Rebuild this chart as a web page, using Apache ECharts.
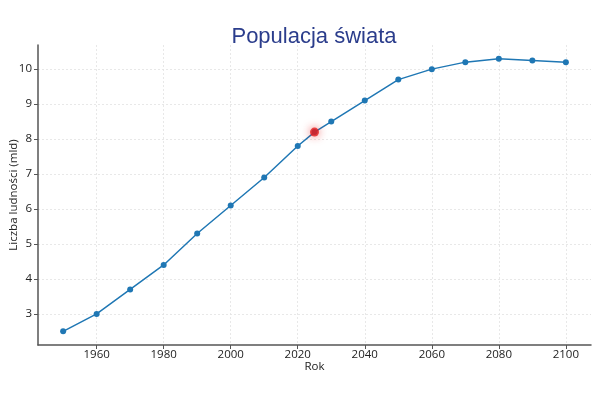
<!DOCTYPE html>
<html>
<head>
<meta charset="utf-8">
<script src="https://cdn.jsdelivr.net/npm/echarts@6/dist/echarts.min.js"></script>
<style>html,body{margin:0;padding:0;background:#fff}#chart{width:600px;height:400px}</style>
</head>
<body>
<div id="chart"></div>
<script>
var years = [1950, 1960, 1970, 1980, 1990, 2000, 2010, 2020, 2025, 2030, 2040, 2050, 2060, 2070, 2080, 2090, 2100];
var population = [2.5, 3.0, 3.7, 4.4, 5.3, 6.1, 6.9, 7.8, 8.2, 8.5, 9.1, 9.7, 10.0, 10.2, 10.3, 10.25, 10.2];
var highlightYear = 2025;
var highlightValue = 8.2;
var xTicks = [1960, 1980, 2000, 2020, 2040, 2060, 2080, 2100];
var yTicks = [3, 4, 5, 6, 7, 8, 9, 10];

var myChart = echarts.init(document.getElementById('chart'));

var lineData = [];
for (var i = 0; i < years.length; i++) {
    lineData.push([years[i], population[i]]);
}

var font = 'Open Sans';
var axisCommon = function (ticks, margin) {
    return {
        axisLine: { show: true, lineStyle: { color: '#555', width: 1.5 } },
        axisTick: { show: true, length: 4, lineStyle: { color: '#555' }, customValues: ticks },
        axisLabel: {
            color: '#222', fontSize: 11.5, fontFamily: font, customValues: ticks, margin: margin,
            formatter: function (v) { return String(v); }
        },
        splitLine: { show: true, lineStyle: { color: '#e2e2e2', type: [2, 2], width: 0.8 } }
    };
};

var xAxis = axisCommon(xTicks, 4);
xAxis.type = 'value';
xAxis.min = 1942.5;
xAxis.max = 2107.5;
xAxis.name = 'Rok';
xAxis.nameLocation = 'middle';
xAxis.nameGap = 16;
xAxis.nameMoveOverlap = false;
xAxis.nameTextStyle = { color: '#222', fontSize: 11.5, fontFamily: font, verticalAlign: 'top' };

var yAxis = axisCommon(yTicks, 6);
yAxis.type = 'value';
yAxis.min = 2.11;
yAxis.max = 10.69;
yAxis.name = 'Liczba ludności (mld)';
yAxis.nameLocation = 'middle';
yAxis.nameGap = 18;
yAxis.nameMoveOverlap = false;
yAxis.nameTextStyle = { color: '#222', fontSize: 11.5, fontFamily: font };

var option = {
    backgroundColor: '#fff',
    animation: false,
    title: {
        text: 'Populacja świata',
        left: 309,
        textAlign: 'center',
        top: 21,
        textStyle: { color: '#2b3d8c', fontSize: 22, fontWeight: 'normal', fontFamily: 'Liberation Sans' }
    },
    grid: { left: 38, right: 9, top: 45, bottom: 55, containLabel: false, outerBoundsMode: 'none' },
    xAxis: xAxis,
    yAxis: yAxis,
    series: [
        {
            type: 'line',
            data: lineData,
            symbol: 'circle',
            symbolSize: 6,
            lineStyle: { color: '#1f77b4', width: 1.5 },
            itemStyle: { color: '#1f77b4' }
        },
        {
            type: 'scatter',
            data: [[highlightYear, highlightValue]],
            symbolSize: 9,
            itemStyle: { color: '#e31a1c', shadowBlur: 8, shadowColor: 'rgba(230,30,30,0.8)' },
            z: 5
        }
    ]
};
myChart.setOption(option);
</script>
</body>
</html>
